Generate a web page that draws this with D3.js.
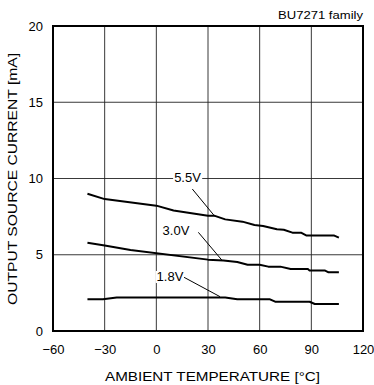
<!DOCTYPE html>
<html><head><meta charset="utf-8">
<script src="https://cdn.jsdelivr.net/npm/d3@7"></script>
<style>body{margin:0;background:#fff}svg{display:block}text{font-family:"Liberation Sans",Arial,sans-serif;fill:#000}</style>
</head><body>
<script>
const xTicks = [-60, -30, 0, 30, 60, 90, 120];
const yTicks = [0, 5, 10, 15, 20];
const temp55 = [-40, -30, 0, 10, 30, 34, 40, 50, 57, 62, 70, 74, 79, 84, 87, 103, 106];
const v55    = [9.0, 8.65, 8.22, 7.9, 7.55, 7.55, 7.32, 7.17, 6.95, 6.89, 6.67, 6.64, 6.45, 6.45, 6.27, 6.27, 6.12];
const temp30 = [-40, -30, -15, 30, 39, 47, 53, 60, 65, 72, 78, 88, 89, 98, 100, 106];
const v30    = [5.78, 5.6, 5.31, 4.68, 4.62, 4.52, 4.35, 4.35, 4.22, 4.22, 4.07, 4.07, 3.96, 3.96, 3.85, 3.85];
const temp18 = [-40, -31, -23, 40, 47, 66, 69, 89, 92, 106];
const v18    = [2.08, 2.08, 2.2, 2.19, 2.08, 2.08, 1.92, 1.92, 1.77, 1.77];
const seriesNames = ["5.5V", "3.0V", "1.8V"];

const W = 374, H = 385;
const m = {left: 53, right: 11, top: 26, bottom: 54};
const FF = '"Liberation Sans",Arial,sans-serif';
const svg = d3.select("body").append("svg").attr("width", W).attr("height", H);
const x = d3.scaleLinear().domain([-60, 120]).range([m.left, W - m.right]);
const y = d3.scaleLinear().domain([0, 20]).range([H - m.bottom, m.top]);

// grid
const g = svg.append("g");
g.selectAll(".vg").data(xTicks.slice(1, -1)).join("line")
  .attr("x1", d => x(d)).attr("x2", d => x(d)).attr("y1", y(20)).attr("y2", y(0))
  .attr("stroke", "#222").attr("stroke-width", 0.9);
g.selectAll(".hg").data(yTicks.slice(1, -1)).join("line")
  .attr("x1", x(-60)).attr("x2", x(120)).attr("y1", d => y(d)).attr("y2", d => y(d))
  .attr("stroke", "#222").attr("stroke-width", 0.9);

// axes labels
const xa = svg.append("g").attr("transform", `translate(0,${y(0)})`)
  .call(d3.axisBottom(x).tickValues(xTicks).tickSize(0).tickPadding(14));
xa.select(".domain").remove();
xa.selectAll("text").style("font-size", "13px").style("font-family", FF);
const ya = svg.append("g").attr("transform", `translate(${x(-60)},0)`)
  .call(d3.axisLeft(y).tickValues(yTicks).tickSize(0).tickPadding(10));
ya.select(".domain").remove();
ya.selectAll("text").style("font-size", "13px").style("font-family", FF);

// border
svg.append("rect").attr("x", x(-60)).attr("y", y(20)).attr("width", x(120) - x(-60)).attr("height", y(0) - y(20))
  .attr("fill", "none").attr("stroke", "#000").attr("stroke-width", 2);

// series
const line = d3.line().x(d => x(d[0])).y(d => y(d[1]));
const data = [d3.zip(temp55, v55), d3.zip(temp30, v30), d3.zip(temp18, v18)];
svg.selectAll(".s").data(data).join("path")
  .attr("d", line).attr("fill", "none").attr("stroke", "#000").attr("stroke-width", 2).attr("stroke-linejoin", "round");

// callouts: [label temp, label value, leader start temp, value, end temp, value]
const callouts = [
  [18.1, 9.77, 20.9, 9.31, 34.1, 7.5],
  [11.4, 6.3, 24.4, 6.47, 38.0, 4.655],
  [7.9, 3.28, 16.1, 3.52, 37.0, 2.25]
];
callouts.forEach((c, i) => {
  const t = svg.append("text").attr("x", x(c[0])).attr("y", y(c[1])).attr("text-anchor", "middle")
    .style("font-size", "13px").text(seriesNames[i]);
  const b = t.node().getBBox();
  svg.insert("rect", () => t.node()).attr("x", b.x - 1).attr("y", b.y + 2).attr("width", b.width + 2).attr("height", b.height - 3)
    .attr("fill", "#fff");
  svg.append("line").attr("x1", x(c[2])).attr("y1", y(c[3])).attr("x2", x(c[4])).attr("y2", y(c[5]))
    .attr("stroke", "#000").attr("stroke-width", 1);
});

svg.append("text").attr("x", 363).attr("y", 19).attr("text-anchor", "end").style("font-size", "11px")
  .attr("textLength", 85).attr("lengthAdjust", "spacingAndGlyphs").text("BU7271 family");
svg.append("text").attr("x", 212.5).attr("y", 381).attr("text-anchor", "middle").style("font-size", "13px")
  .attr("textLength", 215).attr("lengthAdjust", "spacingAndGlyphs")
  .text("AMBIENT TEMPERATURE [\u00B0C]");
svg.append("text").attr("transform", `translate(16.5,179) rotate(-90)`).attr("text-anchor", "middle")
  .style("font-size", "13px").attr("textLength", 252).attr("lengthAdjust", "spacingAndGlyphs")
  .text("OUTPUT SOURCE CURRENT [mA]");
</script>
</body></html>
